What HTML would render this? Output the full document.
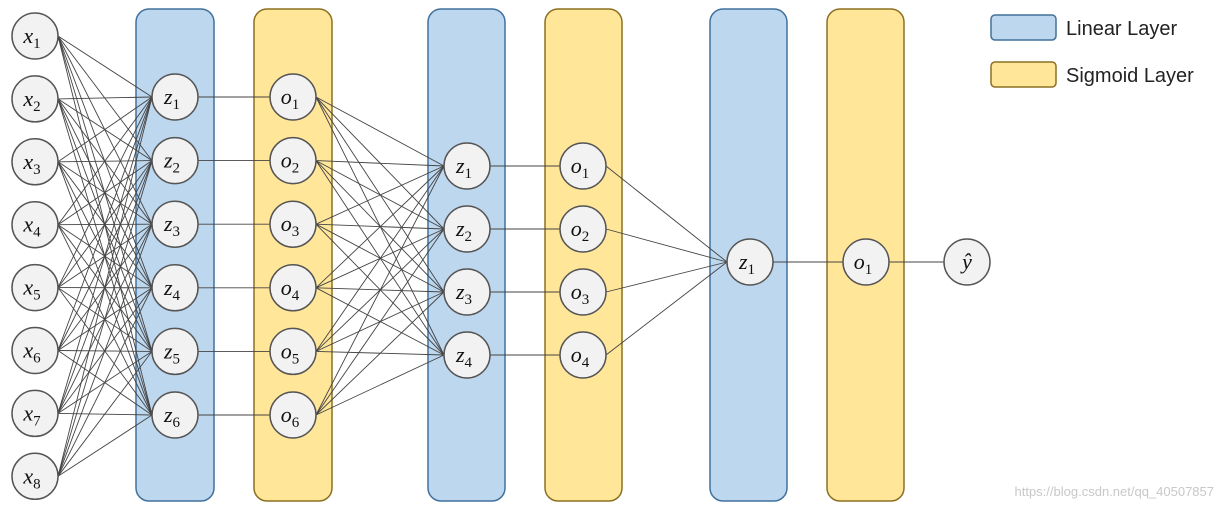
<!DOCTYPE html>
<html><head><meta charset="utf-8"><style>
body{margin:0;background:#fff}
svg text{font-family:"Liberation Serif",serif;font-style:italic}
</style></head><body>
<svg width="1224" height="510" xmlns="http://www.w3.org/2000/svg" id="s">
<g stroke-width="1.5">
<rect x="136" y="9" width="78" height="492" rx="13" fill="#bdd7ee" stroke="#41719c"/>
<rect x="254" y="9" width="78" height="492" rx="13" fill="#ffe699" stroke="#8c7020"/>
<rect x="428" y="9" width="77" height="492" rx="13" fill="#bdd7ee" stroke="#41719c"/>
<rect x="545" y="9" width="77" height="492" rx="13" fill="#ffe699" stroke="#8c7020"/>
<rect x="710" y="9" width="77" height="492" rx="13" fill="#bdd7ee" stroke="#41719c"/>
<rect x="827" y="9" width="77" height="492" rx="13" fill="#ffe699" stroke="#8c7020"/>
<rect x="991" y="15" width="65" height="25" rx="4" fill="#bdd7ee" stroke="#41719c"/>
<rect x="991" y="62" width="65" height="25" rx="4" fill="#ffe699" stroke="#8c7020"/>
</g>
<text x="1066" y="35" style="font-family:'Liberation Sans',sans-serif;font-style:normal" font-size="20" fill="#222">Linear Layer</text>
<text x="1066" y="82" style="font-family:'Liberation Sans',sans-serif;font-style:normal" font-size="20" fill="#222">Sigmoid Layer</text>
<text x="1214" y="496" text-anchor="end" style="font-family:'Liberation Sans',sans-serif;font-style:normal" font-size="13" fill="#c8c8c8">https://blog.csdn.net/qq_40507857</text>
<g id="lines" stroke="#444" stroke-width="0.9"></g>
<g id="nodes"></g>
</svg>
<script>
var ns="http://www.w3.org/2000/svg",R=23;
var X=[],Z1=[],Z2=[];
for(var i=0;i<8;i++)X.push(36+i*62.9);
for(var i=0;i<6;i++)Z1.push(97+i*63.6);
for(var i=0;i<4;i++)Z2.push(166+i*63);
var L=document.getElementById('lines'),N=document.getElementById('nodes');
function ln(x1,y1,x2,y2){var l=document.createElementNS(ns,'line');l.setAttribute('x1',x1);l.setAttribute('y1',y1);l.setAttribute('x2',x2);l.setAttribute('y2',y2);L.appendChild(l);}
function nd(x,y,v,sub){var c=document.createElementNS(ns,'circle');c.setAttribute('cx',x);c.setAttribute('cy',y);c.setAttribute('r',R);c.setAttribute('fill','#f2f2f2');c.setAttribute('stroke','#555');c.setAttribute('stroke-width','1.5');N.appendChild(c);
var t=document.createElementNS(ns,'text');t.setAttribute('x',x-(sub?3:0));t.setAttribute('y',y+7);t.setAttribute('text-anchor','middle');t.setAttribute('font-size','22');t.setAttribute('fill','#111');t.textContent=v;
if(sub){var s=document.createElementNS(ns,'tspan');s.setAttribute('font-size','15');s.setAttribute('dy','5');s.setAttribute('style','font-style:normal');s.textContent=sub;t.appendChild(s);}N.appendChild(t);}
X.forEach(function(a){Z1.forEach(function(b){ln(35+R,a,175-R,b);});});
Z1.forEach(function(b){ln(175+R,b,293-R,b);});
Z1.forEach(function(a){Z2.forEach(function(b){ln(293+R,a,467-R,b);});});
Z2.forEach(function(b){ln(467+R,b,583-R,b);});
Z2.forEach(function(b){ln(583+R,b,750-R,262);});
ln(750+R,262,866-R,262);ln(866+R,262,967-R,262);
X.forEach(function(y,i){nd(35,y,'x',''+(i+1));});
Z1.forEach(function(y,i){nd(175,y,'z',''+(i+1));nd(293,y,'o',''+(i+1));});
Z2.forEach(function(y,i){nd(467,y,'z',''+(i+1));nd(583,y,'o',''+(i+1));});
nd(750,262,'z','1');nd(866,262,'o','1');nd(967,262,'ŷ','');
</script>
</body></html>
